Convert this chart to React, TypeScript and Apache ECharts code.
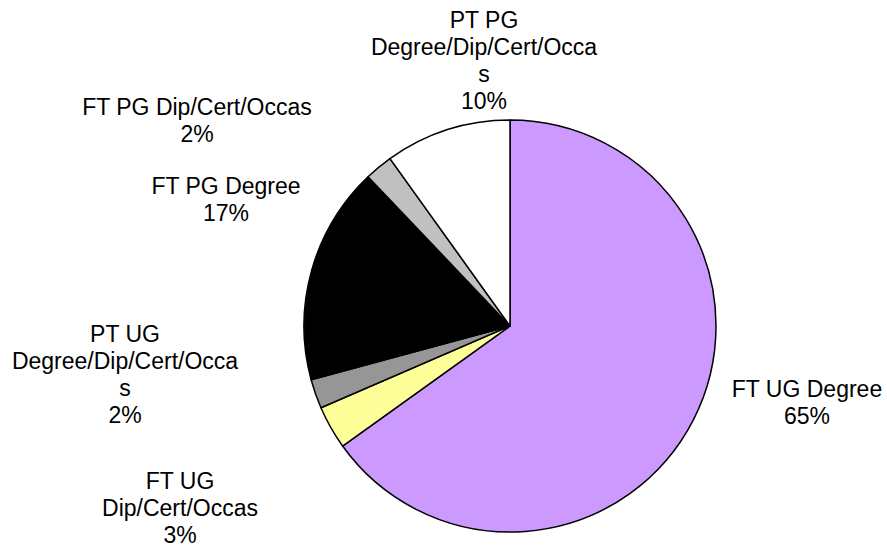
import React, { useEffect, useRef } from "react";
import * as echarts from "echarts";

const categories = [
  "FT UG Degree",
  "FT UG Dip/Cert/Occas",
  "PT UG Degree/Dip/Cert/Occas",
  "FT PG Degree",
  "FT PG Dip/Cert/Occas",
  "PT PG Degree/Dip/Cert/Occas",
];
const shares = [65.1, 3.4, 2.3, 17.1, 2.2, 9.9];
const labelTexts = [
  "FT UG Degree",
  "FT UG\nDip/Cert/Occas",
  "PT UG\nDegree/Dip/Cert/Occa\ns",
  "FT PG Degree",
  "FT PG Dip/Cert/Occas",
  "PT PG\nDegree/Dip/Cert/Occa\ns",
];
const colors = ["#CC99FF", "#FFFF99", "#969696", "#000000", "#C0C0C0", "#FFFFFF"];
// label block centres (layout only)
const labelPos: [number, number][] = [
  [807, 402],
  [180, 508],
  [125, 374],
  [226, 199],
  [197, 120],
  [484, 60],
];

export default function App() {
  const ref = useRef<HTMLDivElement>(null);
  useEffect(() => {
    if (!ref.current) return;
    const chart = echarts.init(ref.current, undefined, { renderer: "svg" });
    chart.setOption({
      animation: false,
      backgroundColor: "#ffffff",
      series: [
        {
          type: "pie",
          center: [510, 326],
          radius: [0, 206],
          startAngle: 90,
          clockwise: true,
          avoidLabelOverlap: false,
          data: categories.map((name, i) => ({
            name,
            value: shares[i],
            itemStyle: { color: colors[i] },
          })),
          itemStyle: { borderColor: "#000000", borderWidth: 1.5 },
          label: {
            show: true,
            position: "outside",
            color: "#000000",
            fontSize: 23,
            lineHeight: 27,
            fontFamily: "'Liberation Sans', Arial, sans-serif",
            formatter: (p: any) =>
              labelTexts[p.dataIndex] + "\n" + Math.round(p.percent) + "%",
          },
          labelLine: { show: false },
          labelLayout: (p: any) => ({
            x: labelPos[p.dataIndex][0],
            y: labelPos[p.dataIndex][1],
            align: "center",
            verticalAlign: "middle",
          }),
          emphasis: { disabled: true },
        },
      ],
    });
    return () => chart.dispose();
  }, []);
  return (
    <div
      ref={ref}
      style={{ position: "fixed", left: 0, top: 0, width: 887, height: 547 }}
    />
  );
}
